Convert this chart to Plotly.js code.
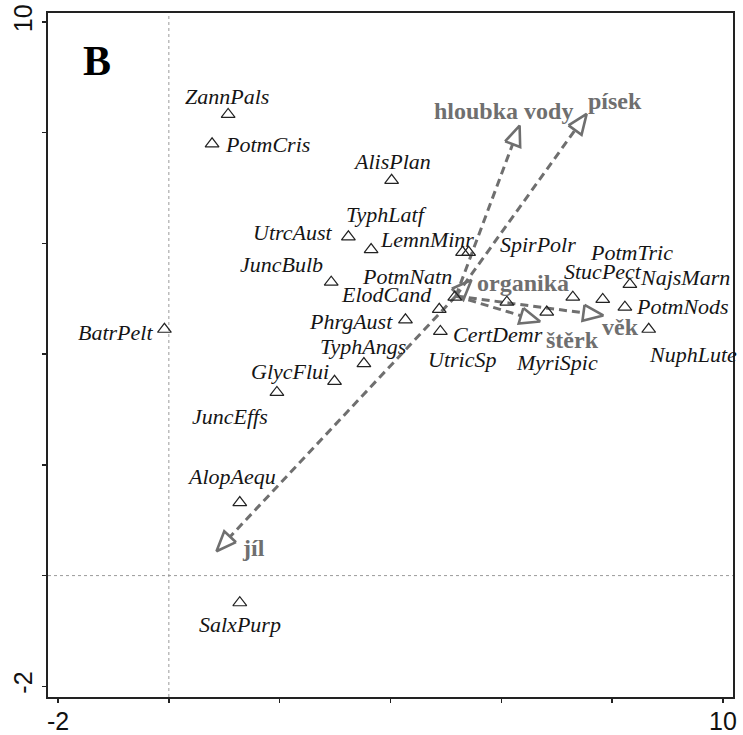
<!DOCTYPE html>
<html><head><meta charset="utf-8">
<script src="https://cdn.plot.ly/plotly-3.0.1.min.js"></script>
<style>html,body{margin:0;padding:0;background:#fff}#chart{width:743px;height:735px}</style>
</head><body><div id="chart"></div>
<script>
// ---- data ----
const species = ['ZannPals','PotmCris','AlisPlan','UtrcAust','TyphLatf','LemnMinr','SpirPolr','JuncBulb','PotmNatn','ElodCand','PhrgAust','CertDemr','UtricSp','MyriSpic','StucPect','PotmTric','NajsMarn','PotmNods','NuphLute','BatrPelt','TyphAngs','GlycFlui','JuncEffs','AlopAequ','SalxPurp'];
const speciesAx1 = [1.07,0.78,4.02,3.24,3.65,5.30,5.41,2.93,5.16,4.88,4.27,4.90,6.10,6.82,7.29,7.83,8.32,8.23,8.66,-0.08,3.52,2.99,1.95,1.28,1.28];
const speciesAx2 = [8.33,7.80,7.14,6.12,5.89,5.84,5.84,5.30,5.03,4.81,4.62,4.41,4.94,4.76,5.03,4.99,5.26,4.85,4.45,4.45,3.83,3.51,3.31,1.32,-0.49];

const envVars = ['hloubka vody','písek','organika','štěrk','věk','jíl'];
const envAx1 = [6.33,7.54,5.46,6.70,7.84,0.86];
const envAx2 = [8.13,8.34,5.34,4.59,4.70,0.44];
const envOrigin = [5.18,5.05];

const tickVals = [-2,0,2,4,6,8,10];
const tickText = ['-2','','','','','','10'];
const panelLabel = 'B';

// ---- label placement (screen px offsets from the point) ----
const spLabelDx = [-1,55,0,-55,15,-36,69,-50,-48,-53,-54,58,-45,10,30,29,55,58,44,-49,-1,-45,-47,-8,0];
const spLabelDy = [-18,1,-19,-4,-35,-13,-8,-18,-21,-15,2,3,57,50,-26,-47,-7,-1,25,3,-17,-10,24,-26,22];
const envLabelDx = [-16,28,52,32,17,37];
const envLabelDy = [-15,-13,3,18,12,-3];

const arrowGray = '#6f6f6f';
const headLen = 0.36, headHalf = 0.145;
const serif = 'Liberation Serif, Times New Roman, serif';

const traces = [];
// environmental arrows
envVars.forEach((name,i)=>{
  const x0 = envOrigin[0], y0 = envOrigin[1];
  const x1 = envAx1[i], y1 = envAx2[i];
  const dx = x1-x0, dy = y1-y0, len = Math.hypot(dx,dy);
  const ux = dx/len, uy = dy/len;
  const bx = x1-ux*headLen, by = y1-uy*headLen;
  traces.push({type:'scatter',mode:'lines',x:[x0,bx],y:[y0,by],
    line:{color:arrowGray,width:3,dash:'8px,5px'},hoverinfo:'skip',showlegend:false});
  traces.push({type:'scatter',mode:'lines',
    x:[bx-uy*headHalf, x1, bx+uy*headHalf, bx-uy*headHalf],
    y:[by+ux*headHalf, y1, by-ux*headHalf, by+ux*headHalf],
    line:{color:arrowGray,width:2.6},hoverinfo:'skip',showlegend:false});
});
// species
traces.push({type:'scatter',mode:'markers',x:speciesAx1,y:speciesAx2,text:species,
  marker:{symbol:'triangle-up-open',size:12,color:'#222',line:{width:1.2,color:'#222'}},
  hoverinfo:'text',showlegend:false});

const annotations = [];
species.forEach((s,i)=>{
  annotations.push({x:speciesAx1[i],y:speciesAx2[i],xref:'x',yref:'y',text:'<i>'+s+'</i>',showarrow:false,
    xanchor:'center',yanchor:'middle',xshift:spLabelDx[i],yshift:-spLabelDy[i],
    font:{family:serif,size:22,color:'#151515'}});
});
envVars.forEach((s,i)=>{
  annotations.push({x:envAx1[i],y:envAx2[i],xref:'x',yref:'y',text:'<b>'+s+'</b>',showarrow:false,
    xanchor:'center',yanchor:'middle',xshift:envLabelDx[i],yshift:-envLabelDy[i],
    font:{family:serif,size:24,color:arrowGray}});
});
annotations.push({x:0.072,y:0.93,xref:'paper',yref:'paper',text:'<b>'+panelLabel+'</b>',showarrow:false,
  xanchor:'center',yanchor:'middle',font:{family:serif,size:42,color:'#000'}});

const axisCommon = {showgrid:false,zeroline:false,showline:true,linecolor:'#222',linewidth:2,mirror:true,
  ticks:'outside',ticklen:4,tickwidth:1.5,tickcolor:'#222',tickvals:tickVals,ticktext:tickText,
  tickfont:{family:'Liberation Sans, Arial, sans-serif',size:25,color:'#111'}};

const layout = {
  width:743,height:735,margin:{l:48,r:10,t:13,b:38},
  paper_bgcolor:'#fff',plot_bgcolor:'#fff',
  xaxis:Object.assign({},axisCommon,{range:[-2.181,10.181],ticklabelstandoff:-3}),
  yaxis:Object.assign({},axisCommon,{range:[-2.193,10.163],tickangle:-90}),
  shapes:[
    {type:'line',xref:'x',yref:'paper',x0:0,x1:0,y0:0,y1:1,layer:'below',line:{color:'#9a9a9a',width:1,dash:'dot'}},
    {type:'line',xref:'paper',yref:'y',x0:0,x1:1,y0:0,y1:0,layer:'below',line:{color:'#9a9a9a',width:1,dash:'dot'}}
  ],
  annotations:annotations,
  showlegend:false
};
Plotly.newPlot('chart',traces,layout,{displayModeBar:false,staticPlot:true});
</script></body></html>
